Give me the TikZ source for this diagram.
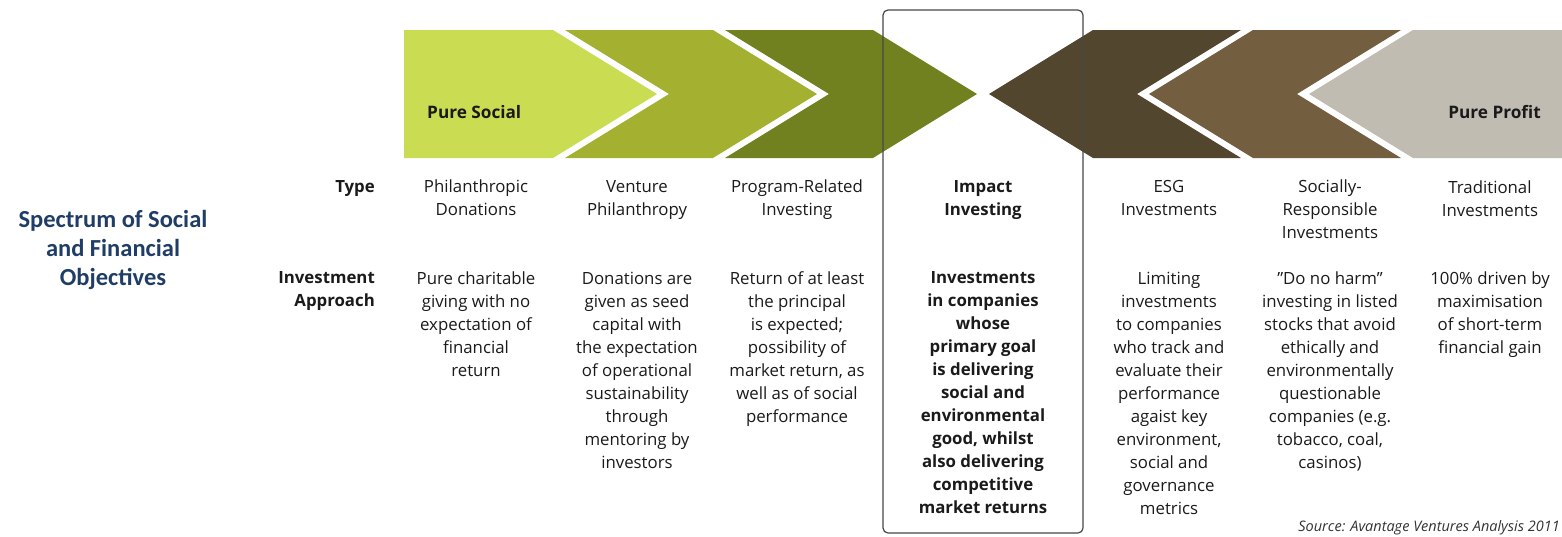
\documentclass[tikz,border=0pt]{standalone}
\usepackage{fontspec}
\setmainfont{Open Sans}
\newfontfamily\titlefont{Carlito}
\definecolor{cA}{HTML}{CADC52}
\definecolor{cB}{HTML}{A3B030}
\definecolor{cC}{HTML}{72811F}
\definecolor{cD}{HTML}{53462E}
\definecolor{cE}{HTML}{735F40}
\definecolor{cF}{HTML}{C1BCB1}
\definecolor{titleblue}{HTML}{1F3D66}
\definecolor{txt}{HTML}{1A1A1A}
\begin{document}
\begin{tikzpicture}[x=1pt,y=-1pt,
  body/.style={inner sep=0pt, align=center, text=txt, font=\fontsize{16.8}{23}\selectfont, anchor=north},
  bodybold/.style={body, font=\fontsize{16.8}{23}\selectfont\bfseries},
  rowlabel/.style={inner sep=0pt, align=right, text=txt, font=\fontsize{16.8}{23}\selectfont\bfseries, anchor=north east},
  bandlabel/.style={inner sep=0pt, text=txt, font=\fontsize{17.2}{20}\selectfont\bfseries}]
\useasboundingbox (0,0) rectangle (1562,536);
% chevrons
\fill[cA] (404,30) -- (553,30) -- (657,94) -- (553,158) -- (404,158) -- cycle;
\fill[cB] (565,30) -- (713,30) -- (817,94) -- (713,158) -- (565,158) -- (669,94) -- cycle;
\fill[cC] (725,30) -- (873,30) -- (977,94) -- (873,158) -- (725,158) -- (829,94) -- cycle;
\fill[cD] (1241,30) -- (1093,30) -- (989,94) -- (1093,158) -- (1241,158) -- (1137,94) -- cycle;
\fill[cE] (1401,30) -- (1253,30) -- (1149,94) -- (1253,158) -- (1401,158) -- (1297,94) -- cycle;
\fill[cF] (1562,30) -- (1413,30) -- (1309,94) -- (1413,158) -- (1562,158) -- cycle;
\node[bandlabel, anchor=west] (ps) at (427,112) {Pure Social};
\node[bandlabel, anchor=east] (pp) at (1541,112) {Pure Profit};
% highlight box
\node[draw=black!72, line width=1.2pt, rounded corners=5pt, minimum width=200pt, minimum height=523pt, inner sep=0pt] (hl) at (983,271.5) {};
% title
\node[inner sep=0pt, align=center, text=titleblue, font=\titlefont\fontsize{24.5}{29}\selectfont\bfseries] (title) at (113,250) {Spectrum of Social\\and Financial\\Objectives};
% row labels
\node[rowlabel] (type) at (375,180) {Type};
\node[rowlabel] (appr) at (375,271.5) {Investment\\Approach};
% type row
\node[body] (t1) at (476,180) {Philanthropic\\Donations};
\node[body] (t2) at (637,180) {Venture\\Philanthropy};
\node[body] (t3) at (797,180) {Program-Related\\Investing};
\node[bodybold] (t4) at (983,180) {Impact\\Investing};
\node[body] (t5) at (1169,180) {ESG\\Investments};
\node[body] (t6) at (1330,180) {Socially-\\Responsible\\Investments};
\node[body] (t7) at (1490,181) {Traditional\\Investments};
% approach row
\node[body] (a1) at (476,271.5) {Pure charitable\\giving with no\\expectation of\\financial\\return};
\node[body] (a2) at (637,271.5) {Donations are\\given as seed\\capital with\\the expectation\\of operational\\sustainability\\through\\mentoring by\\investors};
\node[body] (a3) at (797,271.5) {Return of at least\\the principal\\is expected;\\possibility of\\market return, as\\well as of social\\performance};
\node[bodybold] (a4) at (983,271.5) {Investments\\in companies\\whose\\primary goal\\is delivering\\social and\\environmental\\good, whilst\\also delivering\\competitive\\market returns};
\node[body] (a5) at (1169,271.5) {Limiting\\investments\\to companies\\who track and\\evaluate their\\performance\\agaist key\\environment,\\social and\\governance\\metrics};
\node[body] (a6) at (1330,271.5) {”Do no harm”\\investing in listed\\stocks that avoid\\ethically and\\environmentally\\questionable\\companies (e.g.\\tobacco, coal,\\casinos)};
\node[body] (a7) at (1490,271.5) {100\% driven by\\maximisation\\of short-term\\financial gain};
% source
\node[inner sep=0pt, anchor=base east, text=black!80, font=\fontsize{14.5}{18}\selectfont\itshape] (src) at (1560,531.5) {Source: Avantage Ventures Analysis 2011};
\end{tikzpicture}
\end{document}
